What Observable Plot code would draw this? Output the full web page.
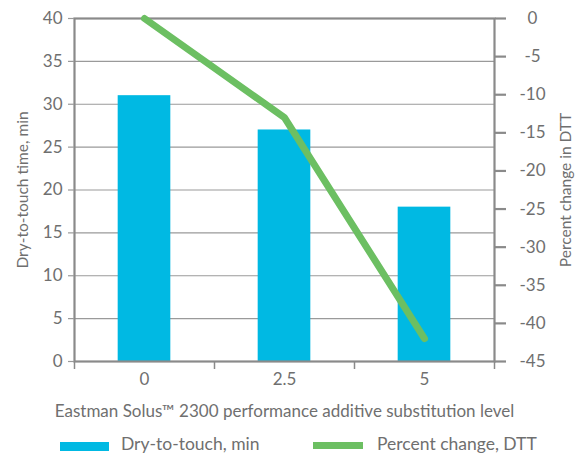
<!DOCTYPE html>
<html><head><meta charset="utf-8">
<script src="https://cdn.jsdelivr.net/npm/d3@7"></script>
<script src="https://cdn.jsdelivr.net/npm/@observablehq/plot@0.6"></script>
<style>
body{margin:0;background:#fff;font-family:Lato,sans-serif;}
#wrap{position:relative;width:582px;height:458px;}
#legend{position:absolute;left:0;top:0;width:582px;height:458px;pointer-events:none;}
.sw{position:absolute;}
.lt{position:absolute;font-size:17.5px;color:#6f6f6f;line-height:17px;white-space:nowrap;}
</style></head><body>
<div id="wrap"><div id="chart"></div><div id="legend"></div></div>
<script>
const levels = [0, 2.5, 5];
const levelLabels = ["0", "2.5", "5"];
const dryToTouch = [31, 27, 18];
const pctChange = [0, -13, -42];
const leftTicks = [0, 5, 10, 15, 20, 25, 30, 35, 40];
const rightTicks = [0, -5, -10, -15, -20, -25, -30, -35, -40, -45];
const seriesNames = ["Dry-to-touch, min", "Percent change, DTT"];
const colors = ["#00b9e3", "#6cbf62"];

const toLeft = v => 40 + v * 40 / 45;
const fromLeft = d => Math.round((d - 40) * 45 / 40);
const data = levels.map((l, i) => ({level: l, dtt: dryToTouch[i], pct: pctChange[i]}));
const boundaries = [-1.25, 1.25, 3.75, 6.25];
const textColor = "#6f6f6f";

const chart = Plot.plot({
  width: 582, height: 425,
  marginTop: 18, marginLeft: 74, marginRight: 88, marginBottom: 64,
  style: {fontFamily: "Lato, sans-serif", fontSize: "17px", color: textColor, background: "#fff"},
  x: {type: "linear", domain: [-1.25, 6.25]},
  y: {domain: [0, 40]},
  marks: [
    Plot.gridY(leftTicks, {stroke: "#9a9a9a", strokeOpacity: 1, strokeWidth: 1.2}),
    Plot.rectY(data, {x1: d => d.level - 0.47, x2: d => d.level + 0.47, y1: 0, y2: "dtt", fill: colors[0]}),
    Plot.frame({stroke: "#8a8a8a", strokeWidth: 2.2}),
    Plot.axisY(leftTicks, {anchor: "left", tickSize: 6, tickPadding: 6, stroke: "#9a9a9a", strokeWidth: 1.2, fill: textColor, label: null}),
    Plot.axisY([], {anchor: "left", fill: textColor, fontSize: 15.5,
      label: "Dry-to-touch time, min", labelArrow: "none", labelAnchor: "center", labelOffset: 58}),
    Plot.axisY(rightTicks.map(toLeft), {anchor: "right", tickSize: 11, tickPadding: 27, textAnchor: "middle",
      stroke: "#8a8a8a", strokeWidth: 2.2, fill: textColor, tickFormat: d => String(fromLeft(d)), label: null}),
    Plot.axisY([], {anchor: "right", fill: textColor, fontSize: 15.5,
      label: "Percent change in DTT", labelArrow: "none", labelAnchor: "center", labelOffset: 76}),
    Plot.axisX(boundaries, {tickSize: 8, tickFormat: () => "", stroke: "#8a8a8a", strokeWidth: 1.5, label: null}),
    Plot.axisX(levels, {tickSize: 0, tickPadding: 11, fill: textColor, tickFormat: d => levelLabels[levels.indexOf(d)],
      label: "Eastman Solus™ 2300 performance additive substitution level", labelArrow: "none", labelAnchor: "center", labelOffset: 55}),
    Plot.line(data, {x: "level", y: d => toLeft(d.pct), stroke: colors[1], strokeWidth: 7, strokeLinecap: "round", strokeLinejoin: "miter"})
  ]
});
document.getElementById("chart").appendChild(chart);

const legend = document.getElementById("legend");
const items = [
  {sw: [60, 442, 49, 9], tx: 121},
  {sw: [313, 442, 50, 7], tx: 377}
];
items.forEach((it, i) => {
  const s = document.createElement("div");
  s.className = "sw";
  s.style.left = it.sw[0] + "px"; s.style.top = it.sw[1] + "px";
  s.style.width = it.sw[2] + "px"; s.style.height = it.sw[3] + "px";
  s.style.background = colors[i];
  legend.appendChild(s);
  const t = document.createElement("div");
  t.className = "lt";
  t.style.left = it.tx + "px"; t.style.top = "435px";
  t.textContent = seriesNames[i];
  legend.appendChild(t);
});
</script>
</body></html>
